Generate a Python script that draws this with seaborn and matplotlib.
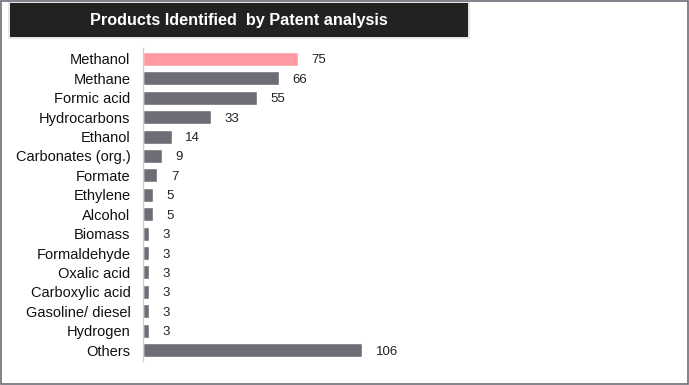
import pandas as pd
import matplotlib.pyplot as plt
import seaborn as sns
from matplotlib.patches import Rectangle

# Chart data
products = ['Methanol', 'Methane', 'Formic acid', 'Hydrocarbons', 'Ethanol',
            'Carbonates (org.)', 'Formate', 'Ethylene', 'Alcohol', 'Biomass',
            'Formaldehyde', 'Oxalic acid', 'Carboxylic acid', 'Gasoline/ diesel',
            'Hydrogen', 'Others']
counts = [75, 66, 55, 33, 14, 9, 7, 5, 5, 3, 3, 3, 3, 3, 3, 106]
highlight = 'Methanol'

df = pd.DataFrame({'Product': products, 'Count': counts})
palette = {p: ('#FF9AA2' if p == highlight else '#6E6D75') for p in products}

sns.set_style('white')
plt.rcParams['font.family'] = ['Liberation Sans', 'DejaVu Sans']

fig = plt.figure(figsize=(6.89, 3.85), dpi=100)
ax = fig.add_axes([143 / 689, 1 - 360.7 / 385, (470 - 143) / 689, (360.7 - 48.3) / 385])

sns.barplot(data=df, y='Product', x='Count', hue='Product', palette=palette,
            order=products, width=0.72, legend=False, ax=ax, saturation=1)

# Value labels
for i, v in enumerate(counts):
    ax.text(v + 6.5, i, str(v), va='center_baseline', ha='left',
            fontsize=9.5, color='#222222')

ax.set_xlim(0, (470 - 143) / 2.067)
ax.set_ylim(15.55, -0.55)
ax.set_xlabel('')
ax.set_ylabel('')
ax.set_xticks([])
ax.tick_params(axis='y', length=0, pad=9, labelsize=10.5, labelcolor='#111111')
for s in ['top', 'right', 'bottom']:
    ax.spines[s].set_visible(False)
ax.spines['left'].set_color('#d0d0d0')
ax.spines['left'].set_linewidth(1)

# Title box
fig.patches.append(Rectangle((8 / 689, 1 - 39 / 385), 462 / 689, 38 / 385,
                             transform=fig.transFigure, facecolor='#e6e6e6',
                             edgecolor='none', zorder=0))
fig.patches.append(Rectangle((10 / 689, 1 - 37 / 385), 458 / 689, 34 / 385,
                             transform=fig.transFigure, facecolor='#222222',
                             edgecolor='none', zorder=1))
fig.text(239 / 689, 1 - 20 / 385, 'Products Identified  by Patent analysis',
         ha='center', va='center', color='white', fontsize=11.7, fontweight='bold')

# Outer border
fig.patches.append(Rectangle((0.5 / 689, 1.5 / 385), 687.5 / 689, 383 / 385,
                             transform=fig.transFigure, facecolor='none',
                             edgecolor='#6E6D78', linewidth=1.2, zorder=2))

fig.savefig('out.png', dpi=100)
